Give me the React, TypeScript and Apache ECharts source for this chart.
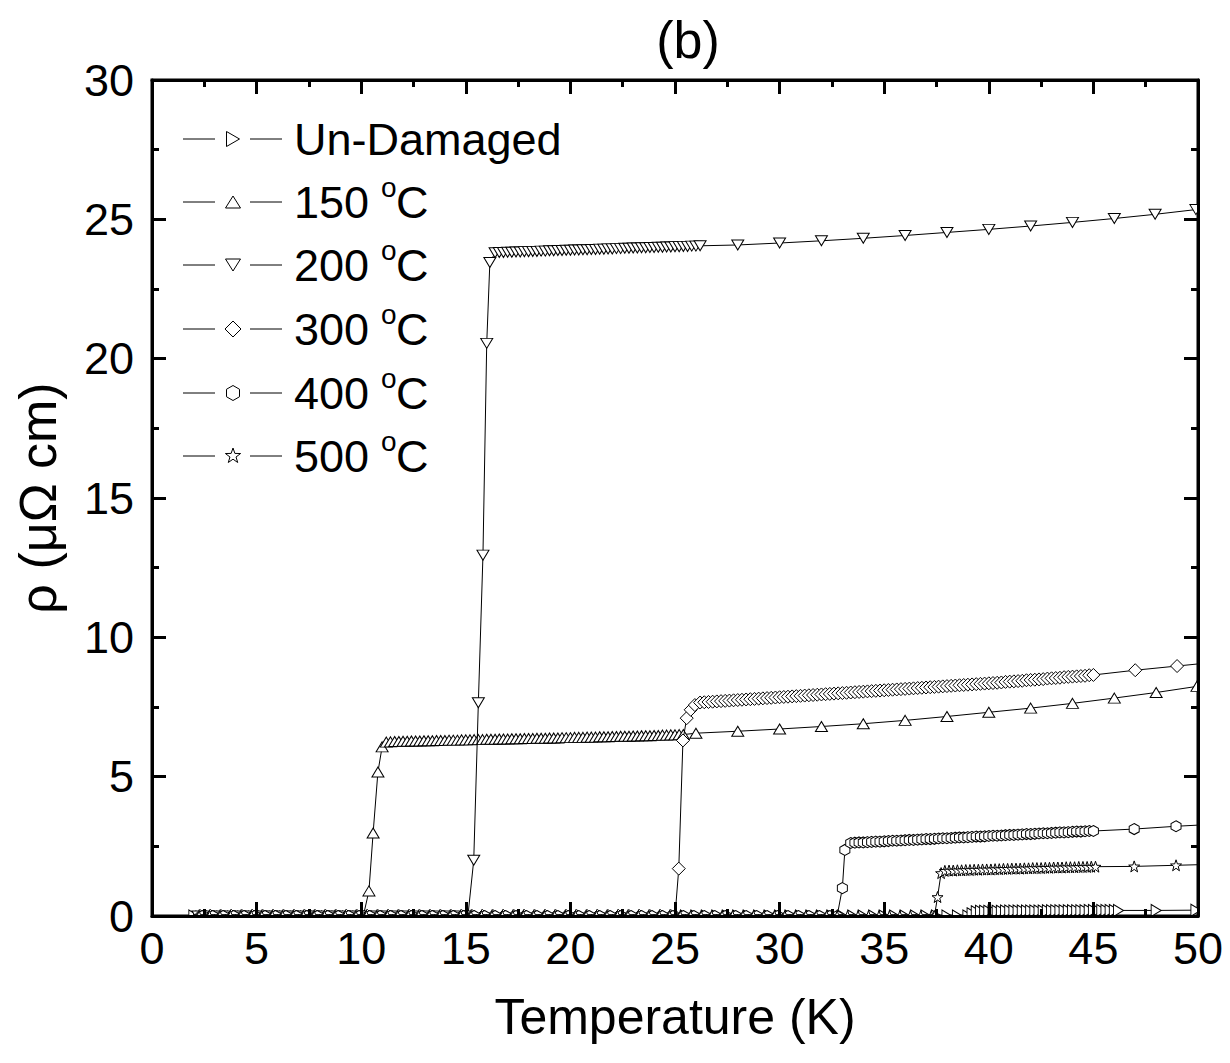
import React, { useEffect, useRef } from "react";
import * as echarts from "echarts";

const FONT = "'Liberation Sans', Arial, Helvetica, sans-serif";

// ---------------- data (temperature in K, resistivity in µΩ cm) ----------------
const seriesNames = ["Un-Damaged", "150 °C", "200 °C", "300 °C", "400 °C", "500 °C"];

const tUndamaged = [
  2.0, 2.5, 3.0, 3.5, 4.0, 4.5, 5.0, 5.5, 6.0, 6.5,
  7.0, 7.5, 8.0, 8.5, 9.0, 9.5, 10.0, 10.5, 11.0, 11.5,
  12.0, 12.5, 13.0, 13.5, 14.0, 14.5, 15.0, 15.5, 16.0, 16.5,
  17.0, 17.5, 18.0, 18.5, 19.0, 19.5, 20.0, 20.5, 21.0, 21.5,
  22.0, 22.5, 23.0, 23.5, 24.0, 24.5, 25.0, 25.5, 26.0, 26.5,
  27.0, 27.5, 28.0, 28.5, 29.0, 29.5, 30.0, 30.5, 31.0, 31.5,
  32.0, 32.5, 33.0, 33.5, 34.0, 34.5, 35.0, 35.5, 36.0, 36.5,
  37.0, 37.5, 38.0, 38.5, 39.0,
  39.2, 39.4, 39.6, 39.8, 40.0, 40.2, 40.4, 40.6, 40.8, 41.0,
  41.2, 41.4, 41.6, 41.8, 42.0, 42.2, 42.4, 42.6, 42.8, 43.0,
  43.2, 43.4, 43.6, 43.8, 44.0, 44.2, 44.4, 44.6, 44.8, 45.0,
  45.2, 45.4, 45.6, 45.8, 46.0, 46.2,
  48.0, 49.9,
];
const rUndamaged = [
  0, 0, 0, 0, 0, 0, 0, 0, 0, 0,
  0, 0, 0, 0, 0, 0, 0, 0, 0, 0,
  0, 0, 0, 0, 0, 0, 0, 0, 0, 0,
  0, 0, 0, 0, 0, 0, 0, 0, 0, 0,
  0, 0, 0, 0, 0, 0, 0, 0, 0, 0,
  0, 0, 0, 0, 0, 0, 0, 0, 0, 0,
  0, 0, 0, 0, 0, 0, 0, 0, 0, 0,
  0, 0, 0, 0, 0,
  0.08, 0.15, 0.17, 0.17, 0.17, 0.17, 0.17, 0.17, 0.18, 0.18,
  0.18, 0.18, 0.18, 0.18, 0.18, 0.18, 0.18, 0.18, 0.19, 0.19,
  0.19, 0.19, 0.19, 0.19, 0.19, 0.19, 0.19, 0.19, 0.2, 0.2,
  0.2, 0.2, 0.2, 0.2, 0.2, 0.2,
  0.2, 0.21,
];

const t150 = [
  2.1, 2.6, 3.1, 3.6, 4.1, 4.6, 5.1, 5.6, 6.1, 6.6,
  7.1, 7.6, 8.1, 8.6, 9.1, 9.6, 10.1,
  10.37, 10.57, 10.8, 11.0,
  11.2, 11.4, 11.6, 11.8, 12.0, 12.2, 12.4, 12.6, 12.8, 13.0,
  13.2, 13.4, 13.6, 13.8, 14.0, 14.2, 14.4, 14.6, 14.8, 15.0,
  15.2, 15.4, 15.6, 15.8, 16.0, 16.2, 16.4, 16.6, 16.8, 17.0,
  17.2, 17.4, 17.6, 17.8, 18.0, 18.2, 18.4, 18.6, 18.8, 19.0,
  19.2, 19.4, 19.6, 19.8, 20.0, 20.2, 20.4, 20.6, 20.8, 21.0,
  21.2, 21.4, 21.6, 21.8, 22.0, 22.2, 22.4, 22.6, 22.8, 23.0,
  23.2, 23.4, 23.6, 23.8, 24.0, 24.2, 24.4, 24.6, 24.8, 25.0,
  25.2, 25.4,
  26.0, 28.0, 30.0, 32.0, 34.0, 36.0, 38.0, 40.0, 42.0, 44.0, 46.0, 48.0, 49.95,
];
const r150 = [
  0, 0, 0, 0, 0, 0, 0, 0, 0, 0,
  0, 0, 0, 0, 0, 0, 0,
  0.9, 2.98, 5.17, 6.07,
  6.24, 6.25, 6.26, 6.26, 6.27, 6.27, 6.28, 6.28, 6.28, 6.29,
  6.29, 6.29, 6.3, 6.3, 6.3, 6.31, 6.31, 6.31, 6.32, 6.32,
  6.32, 6.33, 6.33, 6.33, 6.34, 6.34, 6.34, 6.35, 6.35, 6.35,
  6.36, 6.36, 6.36, 6.37, 6.37, 6.37, 6.38, 6.38, 6.38, 6.39,
  6.39, 6.39, 6.4, 6.4, 6.4, 6.41, 6.41, 6.41, 6.42, 6.42,
  6.42, 6.43, 6.43, 6.43, 6.44, 6.44, 6.45, 6.45, 6.45, 6.46,
  6.46, 6.47, 6.47, 6.47, 6.48, 6.48, 6.49, 6.49, 6.5, 6.5,
  6.51, 6.51,
  6.56, 6.63, 6.71, 6.8, 6.9, 7.02, 7.16, 7.31, 7.46, 7.63, 7.82, 8.02, 8.24,
];

const t200 = [
  2.2, 2.7, 3.2, 3.7, 4.2, 4.7, 5.2, 5.7, 6.2, 6.7,
  7.2, 7.7, 8.2, 8.7, 9.2, 9.7, 10.2, 10.7, 11.2, 11.7,
  12.2, 12.7, 13.2, 13.7, 14.2, 14.7, 15.1,
  15.38, 15.6, 15.82, 16.0, 16.15,
  16.4, 16.6, 16.8, 17.0, 17.2, 17.4, 17.6, 17.8, 18.0, 18.2,
  18.4, 18.6, 18.8, 19.0, 19.2, 19.4, 19.6, 19.8, 20.0, 20.2,
  20.4, 20.6, 20.8, 21.0, 21.2, 21.4, 21.6, 21.8, 22.0, 22.2,
  22.4, 22.6, 22.8, 23.0, 23.2, 23.4, 23.6, 23.8, 24.0, 24.2,
  24.4, 24.6, 24.8, 25.0, 25.2, 25.4, 25.6, 25.8, 26.0, 26.2,
  28.0, 30.0, 32.0, 34.0, 36.0, 38.0, 40.0, 42.0, 44.0, 46.0, 47.95, 49.9,
];
const r200 = [
  0, 0, 0, 0, 0, 0, 0, 0, 0, 0,
  0, 0, 0, 0, 0, 0, 0, 0, 0, 0,
  0, 0, 0, 0, 0, 0, 0,
  2.0, 7.65, 12.95, 20.55, 23.45,
  23.8, 23.81, 23.81, 23.82, 23.82, 23.83, 23.83, 23.84, 23.84, 23.85,
  23.85, 23.86, 23.86, 23.87, 23.87, 23.88, 23.88, 23.89, 23.89, 23.9,
  23.9, 23.91, 23.91, 23.92, 23.92, 23.93, 23.93, 23.94, 23.94, 23.95,
  23.95, 23.96, 23.96, 23.97, 23.97, 23.98, 23.98, 23.99, 23.99, 24.0,
  24.0, 24.01, 24.01, 24.02, 24.02, 24.03, 24.03, 24.04, 24.04, 24.05,
  24.08, 24.15, 24.23, 24.32, 24.42, 24.53, 24.64, 24.76, 24.89, 25.03, 25.18, 25.35,
];

const t300 = [
  2.3, 2.8, 3.3, 3.8, 4.3, 4.8, 5.3, 5.8, 6.3, 6.8,
  7.3, 7.8, 8.3, 8.8, 9.3, 9.8, 10.3, 10.8, 11.3, 11.8,
  12.3, 12.8, 13.3, 13.8, 14.3, 14.8, 15.3, 15.8, 16.3, 16.8,
  17.3, 17.8, 18.3, 18.8, 19.3, 19.8, 20.3, 20.8, 21.3, 21.8,
  22.3, 22.8, 23.3, 23.8, 24.3, 24.8, 25.0,
  25.18, 25.38, 25.56, 25.75, 25.95,
  26.2, 26.4, 26.6, 26.8, 27.0, 27.2, 27.4, 27.6, 27.8, 28.0,
  28.2, 28.4, 28.6, 28.8, 29.0, 29.2, 29.4, 29.6, 29.8, 30.0,
  30.2, 30.4, 30.6, 30.8, 31.0, 31.2, 31.4, 31.6, 31.8, 32.0,
  32.2, 32.4, 32.6, 32.8, 33.0, 33.2, 33.4, 33.6, 33.8, 34.0,
  34.2, 34.4, 34.6, 34.8, 35.0, 35.2, 35.4, 35.6, 35.8, 36.0,
  36.2, 36.4, 36.6, 36.8, 37.0, 37.2, 37.4, 37.6, 37.8, 38.0,
  38.2, 38.4, 38.6, 38.8, 39.0, 39.2, 39.4, 39.6, 39.8, 40.0,
  40.2, 40.4, 40.6, 40.8, 41.0, 41.2, 41.4, 41.6, 41.8, 42.0,
  42.2, 42.4, 42.6, 42.8, 43.0, 43.2, 43.4, 43.6, 43.8, 44.0,
  44.2, 44.4, 44.6, 44.8, 45.0,
  47.0, 49.0, 51.0,
];
const r300 = [
  0, 0, 0, 0, 0, 0, 0, 0, 0, 0,
  0, 0, 0, 0, 0, 0, 0, 0, 0, 0,
  0, 0, 0, 0, 0, 0, 0, 0, 0, 0,
  0, 0, 0, 0, 0, 0, 0, 0, 0, 0,
  0, 0, 0, 0, 0, 0, 0,
  1.7, 6.3, 7.1, 7.4, 7.57,
  7.66, 7.67, 7.68, 7.69, 7.7, 7.71, 7.72, 7.73, 7.74, 7.75,
  7.76, 7.77, 7.78, 7.79, 7.8, 7.81, 7.82, 7.83, 7.84, 7.85,
  7.86, 7.87, 7.88, 7.89, 7.9, 7.91, 7.92, 7.93, 7.94, 7.95,
  7.96, 7.97, 7.98, 7.99, 8.0, 8.01, 8.02, 8.03, 8.04, 8.05,
  8.06, 8.07, 8.08, 8.09, 8.1, 8.11, 8.12, 8.13, 8.14, 8.15,
  8.16, 8.17, 8.18, 8.19, 8.2, 8.21, 8.22, 8.23, 8.24, 8.25,
  8.26, 8.27, 8.28, 8.29, 8.3, 8.31, 8.32, 8.33, 8.34, 8.35,
  8.36, 8.37, 8.38, 8.4, 8.41, 8.42, 8.43, 8.44, 8.46, 8.47,
  8.48, 8.49, 8.5, 8.52, 8.53, 8.54, 8.55, 8.57, 8.58, 8.59,
  8.6, 8.61, 8.62, 8.64, 8.65,
  8.82, 8.97, 9.12,
];

const t400 = [
  2.4, 2.9, 3.4, 3.9, 4.4, 4.9, 5.4, 5.9, 6.4, 6.9,
  7.4, 7.9, 8.4, 8.9, 9.4, 9.9, 10.4, 10.9, 11.4, 11.9,
  12.4, 12.9, 13.4, 13.9, 14.4, 14.9, 15.4, 15.9, 16.4, 16.9,
  17.4, 17.9, 18.4, 18.9, 19.4, 19.9, 20.4, 20.9, 21.4, 21.9,
  22.4, 22.9, 23.4, 23.9, 24.4, 24.9, 25.4, 25.9, 26.4, 26.9,
  27.4, 27.9, 28.4, 28.9, 29.4, 29.9, 30.4, 30.9, 31.4, 31.9,
  32.4, 32.75,
  33.0, 33.12,
  33.4, 33.6, 33.8, 34.0, 34.2, 34.4, 34.6, 34.8, 35.0, 35.2,
  35.4, 35.6, 35.8, 36.0, 36.2, 36.4, 36.6, 36.8, 37.0, 37.2,
  37.4, 37.6, 37.8, 38.0, 38.2, 38.4, 38.6, 38.8, 39.0, 39.2,
  39.4, 39.6, 39.8, 40.0, 40.2, 40.4, 40.6, 40.8, 41.0, 41.2,
  41.4, 41.6, 41.8, 42.0, 42.2, 42.4, 42.6, 42.8, 43.0, 43.2,
  43.4, 43.6, 43.8, 44.0, 44.2, 44.4, 44.6, 44.8, 45.0,
  46.95, 48.95, 51.0,
];
const r400 = [
  0, 0, 0, 0, 0, 0, 0, 0, 0, 0,
  0, 0, 0, 0, 0, 0, 0, 0, 0, 0,
  0, 0, 0, 0, 0, 0, 0, 0, 0, 0,
  0, 0, 0, 0, 0, 0, 0, 0, 0, 0,
  0, 0, 0, 0, 0, 0, 0, 0, 0, 0,
  0, 0, 0, 0, 0, 0, 0, 0, 0, 0,
  0, 0,
  1.0, 2.37,
  2.62, 2.63, 2.64, 2.64, 2.65, 2.66, 2.67, 2.67, 2.68, 2.69,
  2.7, 2.7, 2.71, 2.72, 2.73, 2.73, 2.74, 2.75, 2.76, 2.76,
  2.77, 2.78, 2.79, 2.79, 2.8, 2.81, 2.82, 2.82, 2.83, 2.84,
  2.85, 2.85, 2.86, 2.87, 2.88, 2.88, 2.89, 2.9, 2.91, 2.91,
  2.92, 2.93, 2.94, 2.94, 2.95, 2.96, 2.97, 2.97, 2.98, 2.99,
  3.0, 3.0, 3.01, 3.02, 3.03, 3.03, 3.04, 3.05, 3.05,
  3.12, 3.22, 3.3,
];

const t500 = [
  2.25, 2.75, 3.25, 3.75, 4.25, 4.75, 5.25, 5.75, 6.25, 6.75,
  7.25, 7.75, 8.25, 8.75, 9.25, 9.75, 10.25, 10.75, 11.25, 11.75,
  12.25, 12.75, 13.25, 13.75, 14.25, 14.75, 15.25, 15.75, 16.25, 16.75,
  17.25, 17.75, 18.25, 18.75, 19.25, 19.75, 20.25, 20.75, 21.25, 21.75,
  22.25, 22.75, 23.25, 23.75, 24.25, 24.75, 25.25, 25.75, 26.25, 26.75,
  27.25, 27.75, 28.25, 28.75, 29.25, 29.75, 30.25, 30.75, 31.25, 31.75,
  32.25, 32.75, 33.25, 33.75, 34.25, 34.75, 35.25, 35.75, 36.25, 36.75,
  37.25, 37.4,
  37.55, 37.72,
  37.9, 38.1, 38.3, 38.5, 38.7, 38.9, 39.1, 39.3, 39.5, 39.7,
  39.9, 40.1, 40.3, 40.5, 40.7, 40.9, 41.1, 41.3, 41.5, 41.7,
  41.9, 42.1, 42.3, 42.5, 42.7, 42.9, 43.1, 43.3, 43.5, 43.7,
  43.9, 44.1, 44.3, 44.5, 44.7, 44.9, 45.1,
  46.95, 48.95, 51.0,
];
const r500 = [
  0, 0, 0, 0, 0, 0, 0, 0, 0, 0,
  0, 0, 0, 0, 0, 0, 0, 0, 0, 0,
  0, 0, 0, 0, 0, 0, 0, 0, 0, 0,
  0, 0, 0, 0, 0, 0, 0, 0, 0, 0,
  0, 0, 0, 0, 0, 0, 0, 0, 0, 0,
  0, 0, 0, 0, 0, 0, 0, 0, 0, 0,
  0, 0, 0, 0, 0, 0, 0, 0, 0, 0,
  0, 0,
  0.68, 1.54,
  1.62, 1.63, 1.63, 1.64, 1.64, 1.65, 1.65, 1.66, 1.66, 1.67,
  1.67, 1.67, 1.68, 1.68, 1.69, 1.69, 1.7, 1.7, 1.7, 1.71,
  1.71, 1.72, 1.72, 1.72, 1.73, 1.73, 1.74, 1.74, 1.74, 1.75,
  1.75, 1.75, 1.76, 1.76, 1.76, 1.77, 1.77,
  1.78, 1.82, 1.86,
];

// ---------------- symbols ----------------
const SYM_RIGHT = "path://M0,0L10,6L0,12Z";
const SYM_DOWN = "path://M0,0L12,0L6,10Z";
const SYM_HEX = "path://M50,0L93.3,25L93.3,75L50,100L6.7,75L6.7,25Z";
const SYM_STAR =
  "path://M50,0L61.76,33.82L97.55,34.55L69.02,56.18L79.39,90.45L50,70L20.61,90.45L30.98,56.18L2.45,34.55L38.24,33.82Z";

const seriesDefs = [
  { T: tUndamaged, R: rUndamaged, symbol: SYM_RIGHT, size: [10, 12] },
  { T: t150, R: r150, symbol: "triangle", size: [12, 10] },
  { T: t200, R: r200, symbol: SYM_DOWN, size: [12, 10] },
  { T: t300, R: r300, symbol: "diamond", size: [13, 13] },
  { T: t400, R: r400, symbol: SYM_HEX, size: [10, 11] },
  { T: t500, R: r500, symbol: SYM_STAR, size: [11, 11] },
];

// legend marker outlines (relative to marker centre)
function starPts(R: number, r: number): number[][] {
  const pts: number[][] = [];
  for (let k = 0; k < 10; k++) {
    const a = -Math.PI / 2 + (k * Math.PI) / 5;
    const rad = k % 2 === 0 ? R : r;
    pts.push([rad * Math.cos(a), rad * Math.sin(a)]);
  }
  return pts;
}
const legendMarkers: number[][][] = [
  [[-6.5, -7.5], [6.5, 0], [-6.5, 7.5]],
  [[0, -6], [7.5, 6], [-7.5, 6]],
  [[-7.5, -6], [7.5, -6], [0, 6]],
  [[0, -8], [8, 0], [0, 8], [-8, 0]],
  [[0, -7.5], [6.5, -3.75], [6.5, 3.75], [0, 7.5], [-6.5, 3.75], [-6.5, -3.75]],
  starPts(8, 3.2),
];
const legendNumbers = ["Un-Damaged", "150", "200", "300", "400", "500"];
const legendRowY = [139, 202, 265, 329, 393, 456];

function buildGraphic() {
  const els: any[] = [];
  // white masks to clip half-markers at the frame edges
  els.push({ type: "rect", shape: { x: 130, y: 918, width: 1090, height: 7 }, style: { fill: "#fff" }, z: 5, silent: true });
  els.push({ type: "rect", shape: { x: 1199.6, y: 70, width: 25, height: 855 }, style: { fill: "#fff" }, z: 5, silent: true });
  // title
  els.push({
    type: "text", x: 688, y: 40, z: 20,
    style: { text: "(b)", font: `52px ${FONT}`, fill: "#000", align: "center", verticalAlign: "middle", textAlign: "center", textVerticalAlign: "middle" },
  });
  legendRowY.forEach((y, i) => {
    els.push({ type: "line", shape: { x1: 183, y1: y, x2: 215, y2: y }, style: { stroke: "#000", lineWidth: 1 }, z: 20 });
    els.push({ type: "line", shape: { x1: 250, y1: y, x2: 282, y2: y }, style: { stroke: "#000", lineWidth: 1 }, z: 20 });
    els.push({
      type: "polygon", z: 20,
      shape: { points: legendMarkers[i].map(([a, b]) => [233 + a, y + b]) },
      style: { fill: "#fff", stroke: "#000", lineWidth: 1 },
    });
    const ts = (text: string, x: number, yy: number, size: number) => ({
      type: "text", x, y: yy, z: 20,
      style: { text, font: `${size}px ${FONT}`, fill: "#000", align: "left", verticalAlign: "middle", textAlign: "left", textVerticalAlign: "middle" },
    });
    els.push(ts(legendNumbers[i], 294, y, 45));
    if (i > 0) {
      els.push(ts("o", 381, y - 15, 28));
      els.push(ts("C", 396, y, 45));
    }
  });
  return els;
}

const axisLineStyle = { color: "#000", width: 3 };
function axisBase(extra: any) {
  return {
    type: "value",
    axisLine: { show: true, onZero: false, lineStyle: axisLineStyle },
    axisTick: { show: true, inside: true, length: 14, lineStyle: { color: "#000", width: 3 } },
    minorTick: { show: true, splitNumber: 2, length: 7, lineStyle: { color: "#000", width: 3 } },
    splitLine: { show: false },
    minorSplitLine: { show: false },
    z: 10,
    ...extra,
  };
}

export default function App() {
  const ref = useRef<HTMLDivElement>(null);
  useEffect(() => {
    document.body.style.margin = "0";
    document.body.style.overflow = "hidden";
    const chart = echarts.init(ref.current!, null, { renderer: "svg" });
    const option: any = {
      animation: false,
      backgroundColor: "#fff",
      textStyle: { fontFamily: FONT },
      grid: { left: 152, right: 32, top: 80, bottom: 147, show: true, borderColor: "#000", borderWidth: 3, backgroundColor: "transparent" },
      xAxis: [
        axisBase({
          position: "bottom", min: 0, max: 50, interval: 5,
          axisLabel: { show: true, fontSize: 45, color: "#000", fontFamily: FONT, margin: 10 },
          name: "Temperature (K)", nameLocation: "middle", nameGap: 76,
          nameTextStyle: { fontSize: 50, color: "#000", fontFamily: FONT },
        }),
        axisBase({ position: "top", min: 0, max: 50, interval: 5, axisLabel: { show: false } }),
      ],
      yAxis: [
        axisBase({
          position: "left", min: 0, max: 30, interval: 5,
          axisLabel: { show: true, fontSize: 45, color: "#000", fontFamily: FONT, margin: 18 },
          name: "ρ (μΩ cm)", nameLocation: "middle", nameGap: 88,
          nameTextStyle: { fontSize: 52, color: "#000", fontFamily: FONT },
        }),
        axisBase({ position: "right", min: 0, max: 30, interval: 5, axisLabel: { show: false } }),
      ],
      series: seriesDefs.map((d, i) => ({
        name: seriesNames[i],
        type: "line",
        xAxisIndex: 0,
        yAxisIndex: 0,
        data: d.T.map((t, k) => [t, d.R[k]]),
        symbol: d.symbol,
        symbolSize: d.size,
        showSymbol: true,
        clip: true,
        silent: true,
        z: 2 + i * 0.01,
        lineStyle: { color: "#000", width: 1 },
        itemStyle: { color: "#fff", borderColor: "#000", borderWidth: 1 },
        emphasis: { disabled: true },
      })),
      graphic: { elements: buildGraphic() },
    };
    chart.setOption(option);
    return () => chart.dispose();
  }, []);
  return <div ref={ref} style={{ width: 1230, height: 1063 }} />;
}
